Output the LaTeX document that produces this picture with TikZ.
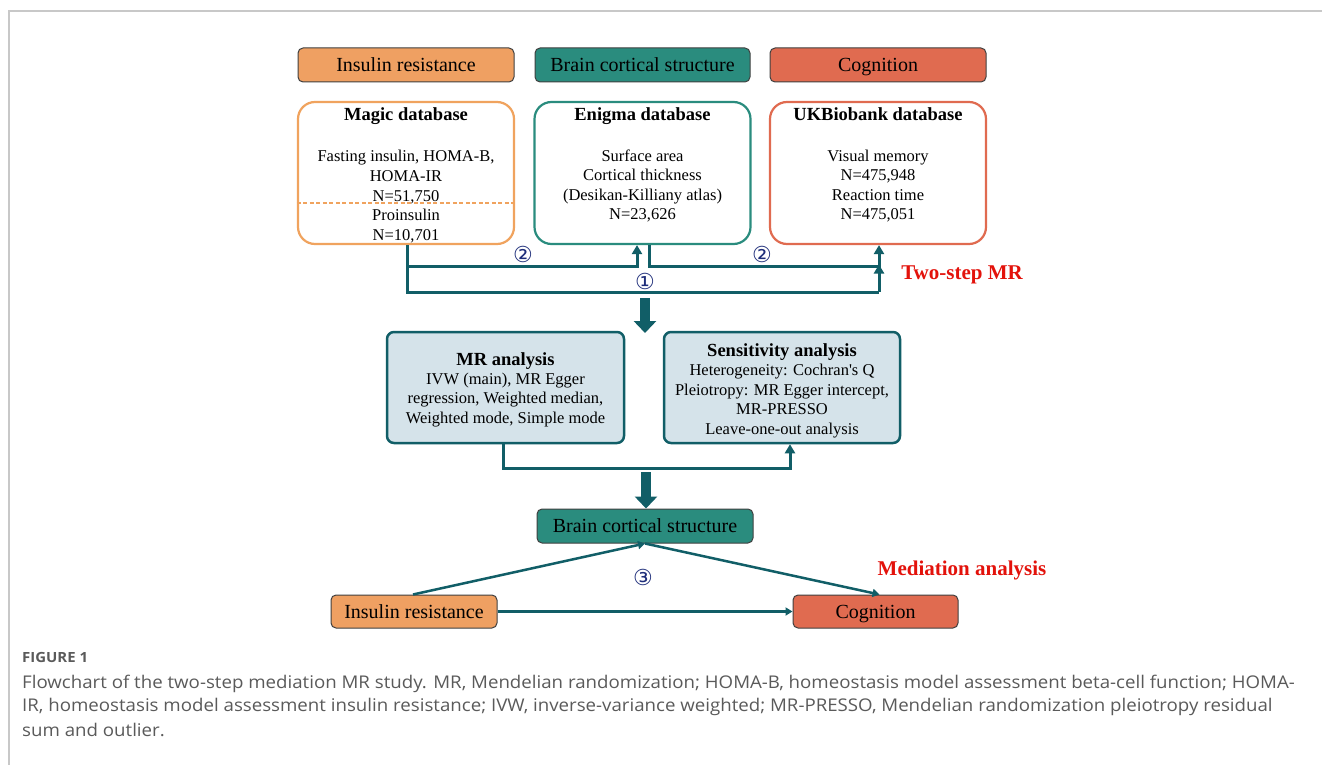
\documentclass[tikz,border=0pt]{standalone}
\usepackage{fontspec}
\setmainfont{Liberation Serif}
\newfontfamily\symfont{DejaVu Sans}
\newfontfamily\capfont[FakeStretch=1.067]{Open Sans}
\usetikzlibrary{arrows.meta}
\definecolor{orng}{HTML}{EFA062}
\definecolor{orngline}{HTML}{F0A35E}
\definecolor{tealf}{HTML}{2A8C7E}
\definecolor{redo}{HTML}{E06B50}
\definecolor{connc}{HTML}{115E67}
\definecolor{boxfill}{HTML}{D5E3EA}
\definecolor{navy}{HTML}{1F2E7A}
\definecolor{capgray}{HTML}{5A5A5A}
\definecolor{framegray}{HTML}{C8C8C8}
\definecolor{redlab}{HTML}{E3120B}
\tikzset{
  hdr/.style={draw=black!75, line width=1pt, rounded corners=5pt, minimum height=34pt, inner sep=0pt, text height=15pt, text depth=2pt, font=\fontsize{20}{24}\selectfont},
  dbbox/.style={line width=2.2pt, rounded corners=17pt, minimum width=216pt, minimum height=142pt, inner sep=0pt},
  anbox/.style={draw=connc, fill=boxfill, line width=2.5pt, rounded corners=7pt, minimum height=111pt, inner sep=0pt},
  ttl/.style={font=\bfseries\fontsize{18.5}{22}\selectfont, inner sep=0pt, text height=12.5pt, text depth=0pt},
  bodyt/.style={font=\fontsize{16.5}{19.6}\selectfont, align=center, inner sep=0pt},
  connarrow/.style={draw=connc, line width=3pt, -{Triangle[width=10pt,length=9pt]}},
  connline/.style={draw=connc, line width=3pt},
  thinarrow/.style={draw=connc, line width=2.5pt, -{Triangle[width=8pt,length=7pt]}},
  bigarrow/.style={draw=connc, line width=10pt, -{Triangle[width=22pt,length=12pt]}},
  num/.style={font=\symfont\fontsize{22}{22}\selectfont, text=navy, inner sep=0pt},
  redlabel/.style={font=\bfseries\fontsize{21}{24}\selectfont, text=redlab, inner sep=0pt, text height=14pt, text depth=0pt},
  capt/.style={font=\capfont\fontsize{17.5}{20}\selectfont, text=capgray, anchor=west, inner sep=0pt},
}
\begin{document}
\begin{tikzpicture}[x=1pt,y=-1pt]
\useasboundingbox (0,0) rectangle (1322,765);
\fill[white] (0,0) rectangle (1322,765);
\draw[framegray, line width=1.5pt] (9,765) -- (9,11) -- (1322,11);

% header boxes
\node[hdr, fill=orng, minimum width=216pt] (hir) at (406,65) {Insulin resistance};
\node[hdr, fill=tealf, minimum width=215pt] (hbc) at (642.5,65) {Brain cortical structure};
\node[hdr, fill=redo, minimum width=216pt] (hcg) at (878,65) {Cognition};

% database boxes
\node[dbbox, draw=orngline] (magic) at (406,173) {};
\node[dbbox, draw=tealf] (enigma) at (642.5,173) {};
\node[dbbox, draw=redo] (ukb) at (878,173) {};

\node[ttl] (magict) at (406,114) {Magic database};
\node[bodyt] (magicb1) at (406,177) {Fasting insulin, HOMA-B,\\HOMA-IR\\N=51,750};
\draw[orngline, line width=1.2pt, dash pattern=on 4pt off 2.5pt] (magic.west |- 0,203) -- (magic.east |- 0,203);
\node[bodyt] (magicb2) at (406,226) {Proinsulin\\N=10,701};

\node[ttl] (enigmat) at (642.5,114) {Enigma database};
\node[bodyt] (enigmab) at (642.5,186) {Surface area\\Cortical thickness\\(Desikan-Killiany atlas)\\N=23,626};

\node[ttl] (ukbt) at (878,114) {UKBiobank database};
\node[bodyt] (ukbb) at (878,186) {Visual memory\\N=475,948\\Reaction time\\N=475,051};

% two-step connectors
\coordinate (rowtwo) at (0,266);
\coordinate (rowone) at (0,292);
\coordinate (ein) at ([xshift=-5.5pt]enigma.south);
\coordinate (eout) at ([xshift=6.5pt]enigma.south);
\coordinate (mout) at ([xshift=1pt]magic.south);
\coordinate (uin) at ([xshift=1pt]ukb.south);
\draw[connline] (mout) -- (mout |- rowone) -- (uin |- rowone);
\draw[connarrow] (uin |- rowone) -- ([yshift=1.5pt]uin |- rowtwo);
\draw[connarrow] (mout |- rowtwo) -- (ein |- rowtwo) -- (ein);
\draw[connarrow] (eout) -- (eout |- rowtwo) -- (uin |- rowtwo) -- (uin);
\node[num] (n2a) at (523,254) {②};
\node[num] (n2b) at (762,254) {②};
\node[num] (n1) at (645,281) {①};
\node[redlabel] (twostep) at (962,272) {Two-step MR};

% analysis boxes
\node[anbox, minimum width=237pt] (mra) at (505.5,387.5) {};
\node[anbox, minimum width=236pt] (sens) at (782,387.5) {};
\node[ttl] (mrat) at (505.5,359) {MR analysis};
\node[bodyt] (mrab) at (505.5,400) {IVW (main), MR Egger\\regression, Weighted median,\\Weighted mode, Simple mode};
\node[ttl] (senst) at (782,350) {Sensitivity analysis};
\node[bodyt] (sensb) at (782,401) {Heterogeneity: Cochran\textquotesingle s Q\\Pleiotropy: MR Egger intercept,\\MR-PRESSO\\Leave-one-out analysis};

\coordinate (bigone) at (645,298);
\draw[bigarrow] (bigone) -- (645,333);

\coordinate (rowthree) at (0,468);
\coordinate (mrout) at ([xshift=-2.5pt]mra.south);
\coordinate (sin) at ([xshift=8pt]sens.south);
\draw[connarrow] (mrout) -- (mrout |- rowthree) -- (sin |- rowthree) -- (sin);

% mediation
\node[hdr, fill=tealf, minimum width=216pt] (bbc) at (645,526) {Brain cortical structure};
\node[hdr, fill=orng, minimum width=166pt, minimum height=33pt] (bir) at (414,611.5) {Insulin resistance};
\node[hdr, fill=redo, minimum width=165pt, minimum height=33pt] (bcg) at (875.5,611.5) {Cognition};

\coordinate (bigtwo) at (646,472);
\draw[bigarrow] (bigtwo) -- (bbc.north -| bigtwo);

\draw[thinarrow] ([xshift=-1pt]bir.north) -- (bbc.south);
\draw[thinarrow] (bbc.south) -- ([xshift=4pt]bcg.north);
\draw[thinarrow] (bir.east) -- (bcg.west);
\node[num] (n3) at (643,577) {③};
\node[redlabel] (medlab) at (962,568) {Mediation analysis};

% caption
\node[capt, font=\capfont\bfseries\fontsize{14}{16}\selectfont] (figlab) at (22,657) {FIGURE 1};
\node[capt] (cap1) at (22,684) {Flowchart of the two-step mediation MR study. MR, Mendelian randomization; HOMA-B, homeostasis model assessment beta-cell function; HOMA-};
\node[capt] (cap2) at (22,707) {IR, homeostasis model assessment insulin resistance; IVW, inverse-variance weighted; MR-PRESSO, Mendelian randomization pleiotropy residual};
\node[capt] (cap3) at (22,730) {sum and outlier.};
\end{tikzpicture}
\end{document}
